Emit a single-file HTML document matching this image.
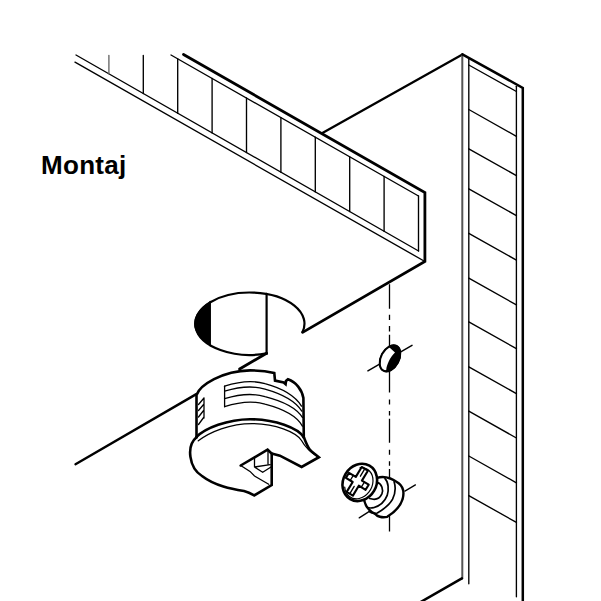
<!DOCTYPE html>
<html><head><meta charset="utf-8">
<style>
html,body{margin:0;padding:0;background:#fff;width:601px;height:601px;overflow:hidden}
svg{position:absolute;left:0;top:0}
.t{position:absolute;left:41px;top:152px;font-family:"Liberation Sans",sans-serif;font-weight:bold;font-size:26px;line-height:26px;color:#000;letter-spacing:0.3px}
</style></head><body>
<svg width="601" height="601" viewBox="0 0 601 601" fill="none" stroke="#000" stroke-linecap="round" stroke-linejoin="miter">
<!-- shelf cross-section -->
<g stroke-width="1.35">
<line x1="76" y1="55" x2="418.6" y2="251"/>
<line x1="75" y1="62.2" x2="424.9" y2="261.5"/>
<line x1="171" y1="55" x2="418.5" y2="196"/>
<line x1="418.5" y1="196" x2="418.5" y2="251"/>
<line x1="108.9" y1="55.5" x2="108.9" y2="73.8" stroke="#666"/>
<line x1="143.3" y1="55.5" x2="143.3" y2="93.5"/>
<line x1="177.7" y1="58.8" x2="177.7" y2="113.2"/>
<line x1="212.1" y1="78.4" x2="212.1" y2="132.9"/>
<line x1="246.5" y1="98.0" x2="246.5" y2="152.6"/>
<line x1="280.9" y1="117.6" x2="280.9" y2="172.2"/>
<line x1="315.3" y1="137.2" x2="315.3" y2="191.9"/>
<line x1="349.7" y1="156.8" x2="349.7" y2="211.6"/>
<line x1="384.1" y1="176.3" x2="384.1" y2="231.3"/>
</g>
<g stroke-width="2.8">
<polyline points="183.5,54.5 424.9,192.5 424.9,261.5 302.6,332.4"/>
<line x1="322.4" y1="133" x2="462.4" y2="54.4" stroke-width="2.3"/>
<line x1="266.6" y1="353.3" x2="239.6" y2="369"/>
<line x1="196.3" y1="394.1" x2="75.5" y2="464.2" stroke-width="2.4"/>
</g>
<!-- side panel -->
<g stroke-width="1.35">
<line x1="462.3" y1="54.4" x2="462.3" y2="578.4" stroke="#555" stroke-width="2"/>
<line x1="468.8" y1="58" x2="468.8" y2="583.8"/>
<line x1="516.4" y1="86.3" x2="516.4" y2="596.8"/>
<line x1="468.8" y1="65" x2="516.4" y2="91.5"/>
<line x1="468.8" y1="109.5" x2="516.4" y2="136.3"/>
<line x1="468.8" y1="148.8" x2="516.4" y2="175.6"/>
<line x1="468.8" y1="188.8" x2="516.4" y2="215.6"/>
<line x1="468.8" y1="233.3" x2="516.4" y2="260.1"/>
<line x1="468.8" y1="278.1" x2="516.4" y2="304.9"/>
<line x1="468.8" y1="321.9" x2="516.4" y2="348.7"/>
<line x1="468.8" y1="366.8" x2="516.4" y2="393.6"/>
<line x1="468.8" y1="411.2" x2="516.4" y2="438.0"/>
<line x1="468.8" y1="456" x2="516.4" y2="482.8"/>
<line x1="468.8" y1="495.6" x2="516.4" y2="522.4"/>
</g>
<g stroke-width="2.5">
<polyline points="462.4,54.4 522.8,87.9 522.8,601"/>
<polyline points="461.9,578.4 405,611"/>
</g>
<!-- hole -->
<path d="M210.2,301.5 A54.6,31.2 0 0 0 210.2,345.7 Z" fill="#000" stroke="none"/>
<path d="M266.6,353.4 A54.6,31.2 0 1 1 302.6,331.8" stroke-width="2.2"/>
<line x1="210.2" y1="301.5" x2="210.2" y2="345.7" stroke-width="1.5"/>
<line x1="266.6" y1="293.8" x2="266.6" y2="354" stroke-width="2.2"/>
<!-- dash-dot -->
<line x1="389.5" y1="284.3" x2="389.5" y2="350" stroke-width="1.3" stroke-dasharray="24.4 6 5.4 6 5.4 3.3" stroke-linecap="butt"/>
<line x1="389.5" y1="368.6" x2="389.5" y2="480" stroke-width="1.3" stroke-dasharray="24 7 5 6.5 4.5 3.2" stroke-linecap="butt"/>
<line x1="389.5" y1="512" x2="389.5" y2="531.5" stroke-width="1.3" stroke-linecap="butt"/>
<!-- dowel -->
<line x1="367.9" y1="370.8" x2="412" y2="345.4" stroke-width="1.5"/>
<ellipse cx="390" cy="358.3" rx="14" ry="9" transform="rotate(-62 390 358.3)" fill="#000" stroke="#000" stroke-width="1.5"/>
<path d="M380.8,368.3 C380,363 380.5,358 381.6,356 C383,352 386,348.5 389.5,347.5 L395,352.5 C393,354.5 390,358 388.7,361.6 C387.5,364 386.5,367 386.2,369.9 C385,370.5 383.5,370.5 380.8,368.3 Z" fill="#fff" stroke="none"/>
<ellipse cx="390" cy="358.3" rx="14" ry="9" transform="rotate(-62 390 358.3)" stroke="#000" stroke-width="2"/>
<!-- cam body -->
<g stroke-width="2.6" fill="#fff">
<path d="M196.5,437.4 L196.5,395 C200,385 222,371 250,370.4 C260,370.4 268,371.5 274.3,373.1 L275,380.6 L283.7,382.5 L285.6,384.2 L286,381 L288,379.3 C296,382 302,390 303.4,398 L303.8,437.5" />
</g>
<g stroke-width="2.6">
<path d="M196.3,437.2 C205,428 228,419.3 250,419.2 C275,419.2 298,428 303.8,437.3"/>
<path d="M196.5,437.2 C186,446 189,468 202,476 C215,486 232,489 244,491 C248,492 251,493.5 254.2,495.4 L271.7,485 L271.7,453.5 L267.6,449.7 L240.7,465.5"/>
<path d="M303.8,437.3 C306,442 308,449 311.4,451.2 L318.9,457.2 L301.6,467 L279.9,455.7 L271.7,453.5"/>
</g>
<g stroke-width="1.3">
<path d="M198.3,440.8 C210,432 230,423.6 252,423.6 C275,423.6 296,432 301.5,440.5 C305,447 310,452 318,457"/>
<path d="M224.6,386.2 L224.6,406.8"/>
<path d="M224.6,386.2 Q248,378.5 265,383.7 Q292,391 301.5,406.1"/>
<path d="M224.6,391.2 Q248,384 265,389.1 Q293,397 301.8,411.1"/>
<path d="M224.6,398.7 Q248,391.5 265,396.6 Q294,404 302.4,417.4"/>
<path d="M224.6,406.6 Q248,399 265,404.1 Q295,412 302.4,426.1"/>
<path d="M204,398 L204,418 M198.5,404.5 L204,398 M198.5,410.5 L204,404 M198.5,417 L204,410 M198.5,424.5 L204,417"/>
<path d="M240.7,465.5 L250,471.4 L254.5,476 L268.7,484.2"/>
<path d="M254.5,458 L254.5,467 L262.7,472.2 L271,467 M254.5,467 L270.2,464.7 M268,451 L268,464"/>
</g>
<!-- screw base -->
<path d="M377.3,477.8 C383,476 390,477 398.7,483.2 C403,486.5 404.5,492 402.6,499.2 C400.5,506 395,512 387.2,516.8 C382,518 377,516.5 375,513.8 C370,511.5 366,508 364.3,500.8 C364,492 370,480 377.3,477.8 Z" fill="#fff" stroke-width="2.4"/>
<g stroke-width="1.7">
<path d="M377.3,482.4 C382,484 383.5,490 381.9,493.9 C380,498 376,500.5 369.7,498.5"/>
<path d="M385,478.6 C388.5,482 389,490 387.2,495.4 C385,501 380,506 373.5,507.7 C370.5,508.3 368,507.8 366.6,506.9"/>
<path d="M394.1,481.7 C395.5,486 395.5,493 392.6,499.2 C390,504 386,508 377.3,513 C373,514 370.5,512.5 368.9,511.5"/>
</g>
<line x1="359.2" y1="517.9" x2="368.2" y2="512.1" stroke-width="1.3"/>
<line x1="404.9" y1="491.1" x2="415.4" y2="484.9" stroke-width="1.3"/>
<!-- screw head -->
<ellipse cx="359.8" cy="482.4" rx="19.3" ry="16.6" transform="rotate(-60 359.8 482.4)" fill="#fff" stroke-width="2.6"/>
<path d="M360.1,467.6 A16.3,13.4 -60 1 1 344.7,487.1" stroke-width="1.2"/>
<polygon points="367.9,470.7 361.9,480.6 368.7,484.7 365.6,489.8 358.8,485.7 352.9,495.6 346.7,491.9 352.7,482.0 345.9,477.9 349.0,472.8 355.8,476.9 361.7,467.0" fill="#fff" stroke-width="2.1" stroke-linejoin="round"/>
<path d="M360.4,476.2 L364.3,469.7 M354.2,486.4 L350.3,492.9 M361.3,487.2 L364.4,482.1 M350.2,480.5 L353.3,475.4" stroke-width="1.3"/>
</svg>
<div class="t">Montaj</div>
</body></html>
